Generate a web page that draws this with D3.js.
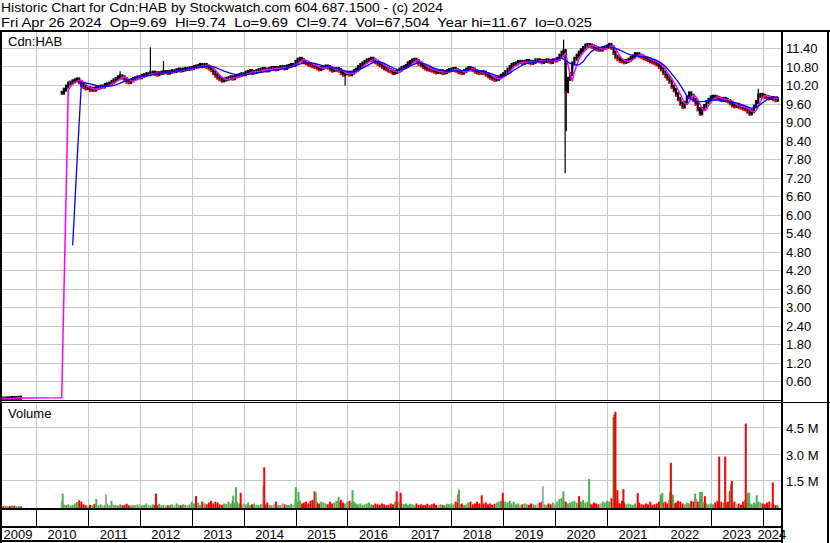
<!DOCTYPE html>
<html>
<head>
<meta charset="utf-8">
<script src="https://cdn.jsdelivr.net/npm/d3@7"></script>
<style>
body { margin: 0; background: #fff; }
svg text { font-family: "Liberation Sans", Arial, sans-serif; font-size: 13px; fill: #000; }
</style>
</head>
<body>
<div id="chart"></div>
<script>
// ---- data ----
var titleLine1 = "Historic Chart for Cdn:HAB by Stockwatch.com 604.687.1500 - (c) 2024";
var titleLine2 = "Fri Apr 26 2024  Op=9.69  Hi=9.74  Lo=9.69  Cl=9.74  Vol=67,504  Year hi=11.67  lo=0.025";
var symbol = "Cdn:HAB";

// 2009 trading before the listing (semi-monthly)
var stubDates = ["2009-05-01","2009-05-16","2009-06-01","2009-06-16","2009-07-01","2009-07-16","2009-08-01","2009-08-16","2009-09-01","2009-09-16"];
var stubClose = [0.03,0.025,0.03,0.04,0.03,0.05,0.04,0.05,0.06,0.05];
var stubVol   = [0.10,0.05,0.08,0.04,0.06,0.08,0.07,0.05,0.06,0.04];

// semi-monthly closes (1st and 16th), Jul 2010 .. Apr 2024
var closes = [
  9.95,10.05,10.15,10.25,10.28,10.32,10.35,10.38,10.3,10.22,10.15,10.1,
  10.1,10.05,10.08,10.05,10.1,10.12,10.15,10.15,10.2,10.22,10.25,10.3,10.35,10.4,10.45,10.48,10.45,10.38,10.32,10.3,10.35,10.4,10.42,10.45,
  10.45,10.5,10.52,10.55,10.55,10.58,10.6,10.58,10.55,10.58,10.6,10.62,10.62,10.6,10.63,10.65,10.65,10.68,10.7,10.68,10.7,10.72,10.72,10.74,
  10.75,10.78,10.8,10.82,10.85,10.82,10.85,10.8,10.75,10.7,10.6,10.52,10.45,10.4,10.35,10.38,10.4,10.42,10.45,10.42,10.48,10.5,10.52,10.55,
  10.55,10.6,10.62,10.65,10.6,10.62,10.65,10.68,10.7,10.72,10.7,10.68,10.72,10.75,10.75,10.72,10.75,10.78,10.78,10.75,10.8,10.82,10.85,10.85,
  10.95,11.02,11.05,11.0,10.95,10.92,10.88,10.85,10.82,10.8,10.75,10.72,10.75,10.78,10.8,10.78,10.72,10.68,10.7,10.72,10.68,10.6,10.55,10.58,
  10.6,10.55,10.6,10.65,10.7,10.78,10.85,10.9,10.95,11.0,11.02,11.05,11.0,10.95,10.9,10.85,10.8,10.75,10.72,10.68,10.65,10.6,10.62,10.65,
  10.7,10.75,10.78,10.82,10.9,10.95,11.0,11.02,10.98,10.9,10.85,10.8,10.75,10.72,10.7,10.68,10.65,10.62,10.62,10.65,10.6,10.62,10.65,10.68,
  10.7,10.72,10.68,10.65,10.62,10.6,10.65,10.7,10.75,10.72,10.7,10.65,10.62,10.6,10.62,10.6,10.55,10.5,10.45,10.42,10.38,10.4,10.45,10.5,
  10.55,10.62,10.7,10.78,10.85,10.88,10.9,10.95,10.95,10.92,10.95,10.98,10.95,10.92,10.95,11.0,11.0,10.98,10.95,10.98,11.0,10.98,10.95,11.0,
  11.0,11.05,11.15,11.25,11.3,10.0,10.4,10.55,10.9,11.05,11.15,11.25,11.33,11.4,11.48,11.5,11.48,11.45,11.42,11.38,11.35,11.35,11.4,11.42,
  11.45,11.5,11.42,11.25,11.12,11.05,11.0,10.98,10.95,10.98,11.02,11.08,11.12,11.2,11.2,11.15,11.12,11.08,11.05,11.02,10.98,10.95,10.92,10.88,
  10.8,10.72,10.6,10.5,10.42,10.32,10.15,10.04,9.9,9.75,9.6,9.5,9.62,9.8,9.93,9.85,9.72,9.6,9.42,9.28,9.42,9.52,9.65,9.72,
  9.8,9.82,9.8,9.78,9.75,9.72,9.75,9.72,9.68,9.62,9.55,9.52,9.52,9.5,9.48,9.45,9.42,9.35,9.28,9.35,9.5,9.65,9.85,9.88,
  9.85,9.82,9.8,9.78,9.78,9.75,9.72,9.74
];

// semi-monthly volume, millions of shares
var volumes = [
  0.3,0.12,0.1,0.15,0.08,0.12,0.2,0.28,0.38,0.3,0.15,0.1,
  0.08,0.12,0.1,0.18,0.45,0.1,0.15,0.08,0.12,0.2,0.1,0.35,0.12,0.1,0.08,0.15,0.1,0.12,0.18,0.1,0.08,0.12,0.1,0.14,
  0.15,0.1,0.12,0.2,0.1,0.08,0.15,0.12,0.1,0.18,0.1,0.12,0.08,0.1,0.12,0.15,0.1,0.2,0.12,0.1,0.15,0.12,0.1,0.14,
  0.3,0.2,0.15,0.25,0.12,0.3,0.2,0.15,0.25,0.35,0.2,0.3,0.25,0.15,0.12,0.2,0.18,0.3,0.2,0.35,0.25,0.3,0.2,0.15,
  0.2,0.15,0.25,0.1,0.15,0.2,0.12,0.1,0.15,0.2,0.15,0.25,0.12,0.1,0.15,0.3,0.12,0.1,0.2,0.15,0.12,0.1,0.18,0.12,
  0.45,0.3,0.35,0.2,0.25,0.3,0.2,0.35,0.4,0.3,0.25,0.2,0.3,0.25,0.2,0.15,0.3,0.2,0.25,0.35,0.3,0.4,0.25,0.2,
  0.3,0.35,0.25,0.3,0.2,0.15,0.2,0.12,0.15,0.2,0.25,0.15,0.1,0.2,0.15,0.12,0.2,0.15,0.1,0.12,0.2,0.15,0.3,0.25,
  0.3,0.2,0.15,0.2,0.12,0.18,0.15,0.1,0.2,0.12,0.15,0.1,0.12,0.18,0.1,0.15,0.2,0.12,0.1,0.15,0.12,0.1,0.18,0.15,
  0.2,0.15,0.3,0.25,0.15,0.2,0.12,0.15,0.25,0.3,0.15,0.2,0.3,0.2,0.15,0.2,0.25,0.15,0.2,0.12,0.18,0.25,0.3,0.35,
  0.4,0.3,0.25,0.35,0.2,0.3,0.15,0.2,0.12,0.15,0.2,0.15,0.12,0.2,0.15,0.12,0.2,0.25,0.3,0.15,0.12,0.2,0.15,0.25,
  0.2,0.3,0.45,0.5,0.35,0.3,0.2,0.25,0.3,0.35,0.25,0.2,0.3,0.4,0.25,0.3,0.2,0.15,0.25,0.2,0.15,0.2,0.3,0.25,
  0.35,0.3,0.5,0.45,0.25,0.3,0.2,0.35,0.25,0.15,0.2,0.15,0.12,0.2,0.15,0.25,0.15,0.12,0.2,0.15,0.3,0.12,0.15,0.2,
  0.3,0.35,0.25,0.3,0.2,0.4,0.3,0.2,0.25,0.35,0.3,0.2,0.15,0.25,0.2,0.35,0.3,0.45,0.3,0.4,0.25,0.3,0.2,0.15,
  0.2,0.15,0.25,0.35,0.2,0.3,0.25,0.2,0.3,0.15,0.2,0.3,0.15,0.2,0.12,0.3,0.4,0.25,0.2,0.15,0.25,0.2,0.3,0.25,
  0.2,0.15,0.25,0.3,0.2,0.15,0.1,0.12
];

// single-day price extremes that stick out of the band
var spikeDates = ["2011-08-16","2012-03-16","2012-06-16","2015-12-16","2020-03-01","2020-03-12","2020-03-20","2023-10-01","2023-12-01"];
var spikeHi    = [10.65, 11.42, 10.98, 10.6, 11.67, 11.3, 10.6, 9.45, 10.08];
var spikeLo    = [10.4, 10.5, 10.55, 10.18, 11.1, 7.34, 8.7, 9.2, 9.8];

// high-volume days (dir: u = up, d = down, n = unchanged)
var volSpikeDates = ["2010-07-08","2011-05-08","2012-04-24","2013-01-31","2013-10-20","2013-11-08","2013-12-11","2014-05-19","2014-05-26",
  "2015-01-03","2015-01-22","2015-05-15","2015-05-24","2015-10-31","2016-02-06","2016-12-13","2017-01-10","2018-02-19","2018-02-24",
  "2018-08-03","2018-12-29","2019-10-07","2020-02-29","2020-06-18","2020-08-28","2021-02-15","2021-02-22","2021-03-01","2021-03-15",
  "2021-04-26","2021-08-05","2022-01-15","2022-01-25","2022-03-20","2022-03-26","2022-04-10","2022-09-13","2022-10-18","2022-10-30",
  "2022-11-20","2023-03-01","2023-04-12","2023-05-15","2023-05-22","2023-05-29","2023-09-04","2023-09-18","2023-09-28","2023-11-20","2024-03-12"];
var volSpikeValues = [0.75,0.71,0.75,0.61,0.64,1.11,0.8,1.2,2.23,
  1.11,0.85,0.88,0.8,0.58,0.94,0.88,0.8,0.7,0.98,
  0.66,0.8,1.17,0.88,0.61,1.58,5.05,5.2,5.35,0.95,
  1.0,0.78,0.7,0.8,0.84,2.48,0.7,0.75,0.85,0.85,
  0.61,2.83,2.83,0.9,1.27,1.46,4.69,0.8,0.8,0.66,1.38];
var volSpikeDir = ["u","n","d","d","u","u","d","n","d",
  "u","u","d","u","u","u","d","d","d","u",
  "d","d","n","u","d","u","u","d","d","d",
  "d","d","u","u","u","d","u","u","u","u",
  "d","d","d","d","u","d","d","u","u","u","d"];

// long moving average (blue), monthly on the 16th, Sep 2010 .. Apr 2024
var blueMA = [
  5.0,7.65,10.25,10.27,
  10.24,10.2,10.17,10.16,10.16,10.17,10.2,10.26,10.32,10.37,10.42,10.46,
  10.48,10.5,10.52,10.55,10.57,10.59,10.61,10.63,10.65,10.68,10.71,10.73,
  10.76,10.78,10.8,10.82,10.81,10.77,10.71,10.65,10.6,10.56,10.53,10.52,
  10.53,10.56,10.58,10.6,10.62,10.65,10.67,10.69,10.71,10.73,10.76,10.8,
  10.85,10.9,10.92,10.92,10.9,10.86,10.82,10.8,10.77,10.74,10.7,10.66,
  10.62,10.63,10.68,10.75,10.82,10.9,10.95,10.95,10.9,10.83,10.76,10.7,
  10.7,10.74,10.82,10.88,10.92,10.9,10.85,10.78,10.72,10.68,10.65,10.64,
  10.66,10.66,10.66,10.68,10.7,10.69,10.66,10.63,10.6,10.55,10.5,10.47,
  10.5,10.58,10.68,10.76,10.84,10.9,10.93,10.94,10.95,10.96,10.97,10.98,
  11.05,11.07,11.0,10.9,10.85,10.85,10.95,11.15,11.3,11.38,11.42,11.44,
  11.43,11.4,11.36,11.3,11.23,11.18,11.15,11.13,11.12,11.1,11.05,11.0,
  10.92,10.8,10.65,10.48,10.3,10.08,9.85,9.73,9.68,9.66,9.67,9.7,
  9.71,9.71,9.7,9.68,9.66,9.63,9.6,9.55,9.5,9.44,9.48,9.57,
  9.68,9.76,9.8,9.82
];

var priceTicks = [0.6,1.2,1.8,2.4,3.0,3.6,4.2,4.8,5.4,6.0,6.6,7.2,7.8,8.4,9.0,9.6,10.2,10.8,11.4];
var volTicks = [1.5, 3.0, 4.5];
var years = [2009,2010,2011,2012,2013,2014,2015,2016,2017,2018,2019,2020,2021,2022,2023,2024];

// ---- build ----
var parse = d3.timeParse("%Y-%m-%d");
var halfDates = d3.timeMonth.range(new Date(2010, 6, 1), new Date(2024, 4, 1))
    .flatMap(function(m) { return [m, new Date(m.getFullYear(), m.getMonth(), 16)]; });
var blueDates = d3.timeMonth.range(new Date(2010, 8, 1), new Date(2024, 4, 1))
    .map(function(m) { return new Date(m.getFullYear(), m.getMonth(), 16); });

var stub = stubDates.map(function(d, i) { return { date: parse(d), close: stubClose[i], vol: stubVol[i] }; });
var main = halfDates.map(function(d, i) { return { date: d, close: closes[i], vol: volumes[i] }; });
function addDirs(arr) {
    arr.forEach(function(p, i) {
        var prev = i > 0 ? arr[i - 1].close : p.close;
        p.prev = prev;
        p.dir = p.close > prev ? "u" : (p.close < prev ? "d" : "n");
    });
}
addDirs(stub); addDirs(main);
var all = stub.concat(main);

// short average (pink): mean of the 3 preceding semi-monthly closes
var pink = all.map(function(p, i) {
    var w = i === 0 ? [p] : all.slice(Math.max(0, i - 3), i);
    return { date: p.date, v: d3.mean(w, function(d) { return d.close; }) };
});

var W = 830, H = 543;
var plotL = 2, plotR = 781;
var pTop = 32, pBot = 400, vTop = 403, vBot = 508;

var x = d3.scaleTime()
    .domain([new Date(2010, 0, 1), new Date(2024, 0, 1)])
    .range([36, 762.7]);
var yP = d3.scaleLinear().domain([0, 11.4]).range([399.5, 48]);
var yV = d3.scaleLinear().domain([0, 6]).range([507, 400.2]);

var colors = { u: "#4caf50", d: "#ff0000", n: "#a8a8a8" };
var grid = "#c8c8c8";

var svg = d3.select("#chart").append("svg")
    .attr("width", W).attr("height", H);
svg.append("rect").attr("width", W).attr("height", H).attr("fill", "#fff");

var defs = svg.append("defs");
defs.append("clipPath").attr("id", "clipP").append("rect")
    .attr("x", plotL).attr("y", pTop).attr("width", plotR - plotL).attr("height", pBot - pTop);
defs.append("clipPath").attr("id", "clipV").append("rect")
    .attr("x", plotL).attr("y", vTop).attr("width", plotR - plotL).attr("height", vBot - vTop + 1);

function cr(v) { return Math.round(v) + 0.5; }

// title
svg.append("text").attr("x", 1).attr("y", 12)
    .attr("textLength", 442).attr("lengthAdjust", "spacingAndGlyphs")
    .text(titleLine1);
svg.append("text").attr("x", 1).attr("y", 27).attr("xml:space", "preserve")
    .style("white-space", "pre")
    .attr("textLength", 591).attr("lengthAdjust", "spacingAndGlyphs")
    .text(titleLine2);

// grids
var yearStarts = years.slice(1).map(function(y) { return new Date(y, 0, 1); });
var g = svg.append("g").attr("stroke", grid).attr("stroke-width", 1).attr("shape-rendering", "crispEdges");
g.selectAll("line.hp").data(priceTicks).enter().append("line")
    .attr("x1", plotL).attr("x2", plotR)
    .attr("y1", function(d) { return cr(yP(d)); }).attr("y2", function(d) { return cr(yP(d)); });
g.selectAll("line.hv").data(volTicks).enter().append("line")
    .attr("x1", plotL).attr("x2", plotR)
    .attr("y1", function(d) { return cr(yV(d)); }).attr("y2", function(d) { return cr(yV(d)); });
g.selectAll("line.vp").data(yearStarts).enter().append("line")
    .attr("x1", function(d) { return cr(x(d)); }).attr("x2", function(d) { return cr(x(d)); })
    .attr("y1", pTop).attr("y2", pBot);
g.selectAll("line.vv").data(yearStarts).enter().append("line")
    .attr("x1", function(d) { return cr(x(d)); }).attr("x2", function(d) { return cr(x(d)); })
    .attr("y1", vTop).attr("y2", vBot);

// price panel
var pg = svg.append("g").attr("clip-path", "url(#clipP)");
var pad = 2;
pg.selectAll("rect.bar").data(all).enter().append("rect")
    .attr("x", function(d) { return x(d.date) - 1.1; })
    .attr("width", 2.2)
    .attr("y", function(d) { return yP(Math.max(d.close, d.prev)) - pad; })
    .attr("height", function(d) { return yP(Math.min(d.close, d.prev)) - yP(Math.max(d.close, d.prev)) + 2 * pad; })
    .attr("fill", "#000");
var spikes = spikeDates.map(function(d, i) { return { date: parse(d), hi: spikeHi[i], lo: spikeLo[i] }; });
pg.selectAll("line.spike").data(spikes).enter().append("line")
    .attr("x1", function(d) { return x(d.date); }).attr("x2", function(d) { return x(d.date); })
    .attr("y1", function(d) { return yP(d.hi); }).attr("y2", function(d) { return yP(d.lo); })
    .attr("stroke", "#000").attr("stroke-width", 1.2);
pg.selectAll("rect.dn").data(all.filter(function(d) { return d.dir === "d"; })).enter().append("rect")
    .attr("x", function(d) { return x(d.date) - 1; })
    .attr("y", function(d) { return yP(d.close) + 0.5; })
    .attr("width", 2).attr("height", 2)
    .attr("fill", "#ff0000");
pg.append("path").datum(pink)
    .attr("d", d3.line().x(function(d) { return x(d.date); }).y(function(d) { return yP(d.v); }))
    .attr("fill", "none").attr("stroke", "#ff00ff").attr("stroke-width", 1.5);
pg.append("path").datum(blueDates.map(function(d, i) { return { date: d, v: blueMA[i] }; }))
    .attr("d", d3.line().x(function(d) { return x(d.date); }).y(function(d) { return yP(d.v); }))
    .attr("fill", "none").attr("stroke", "#0000ff").attr("stroke-width", 1.3);

// volume panel
var vg = svg.append("g").attr("clip-path", "url(#clipV)");
var volBars = all.map(function(d) { return { date: d.date, v: d.vol, dir: d.dir }; })
    .concat(volSpikeDates.map(function(d, i) { return { date: parse(d), v: volSpikeValues[i], dir: volSpikeDir[i] }; }));
vg.selectAll("rect").data(volBars).enter().append("rect")
    .attr("x", function(d) { return x(d.date) - 1; })
    .attr("width", 2)
    .attr("y", function(d) { return yV(d.v); })
    .attr("height", function(d) { return vBot - yV(d.v); })
    .attr("fill", function(d) { return colors[d.dir]; });

// labels
svg.append("text").attr("x", 8).attr("y", 46).text(symbol);
svg.append("text").attr("x", 8).attr("y", 418).text("Volume");
svg.selectAll("text.pl").data(priceTicks).enter().append("text")
    .attr("x", 786).attr("y", function(d) { return yP(d) + 5; })
    .text(function(d) { return d.toFixed(2); });
svg.selectAll("text.vl").data(volTicks).enter().append("text")
    .attr("x", 786).attr("y", function(d) { return yV(d) + 6; })
    .text(function(d) { return d.toFixed(1) + " M"; });

// date axis
var ax = svg.append("g").attr("stroke", "#000").attr("shape-rendering", "crispEdges");
ax.selectAll("line.yt").data(yearStarts).enter().append("line")
    .attr("x1", function(d) { return cr(x(d)); }).attr("x2", function(d) { return cr(x(d)); })
    .attr("y1", 510).attr("y2", 527);
svg.selectAll("text.yr").data(years).enter().append("text")
    .attr("text-anchor", "middle")
    .attr("x", function(y) {
        var a = Math.max(x(new Date(y, 0, 1)), 0), b = Math.min(x(new Date(y + 1, 0, 1)), plotR);
        return Math.max((a + b) / 2, 16);
    })
    .attr("y", 539)
    .text(function(y) { return y; });

// frame
var fr = svg.append("g").attr("stroke", "#000").attr("shape-rendering", "crispEdges").attr("fill", "none");
fr.append("line").attr("x1", 0).attr("x2", W).attr("y1", 30.5).attr("y2", 30.5).attr("stroke-width", 2);
fr.append("line").attr("x1", 1).attr("x2", 1).attr("y1", 30).attr("y2", H).attr("stroke-width", 2);
fr.append("line").attr("x1", 782).attr("x2", 782).attr("y1", 30).attr("y2", H).attr("stroke-width", 2);
fr.append("line").attr("x1", 828).attr("x2", 828).attr("y1", 30).attr("y2", H).attr("stroke-width", 2);
fr.append("line").attr("x1", 0).attr("x2", plotR).attr("y1", 400.5).attr("y2", 400.5);
fr.append("line").attr("x1", 0).attr("x2", W).attr("y1", 402.5).attr("y2", 402.5);
fr.append("line").attr("x1", 0).attr("x2", plotR).attr("y1", 509).attr("y2", 509).attr("stroke-width", 2);
fr.append("line").attr("x1", 0).attr("x2", plotR).attr("y1", 527).attr("y2", 527).attr("stroke-width", 2);
fr.append("line").attr("x1", 0).attr("x2", plotR).attr("y1", 541).attr("y2", 541).attr("stroke-width", 2);
</script>
</body>
</html>
